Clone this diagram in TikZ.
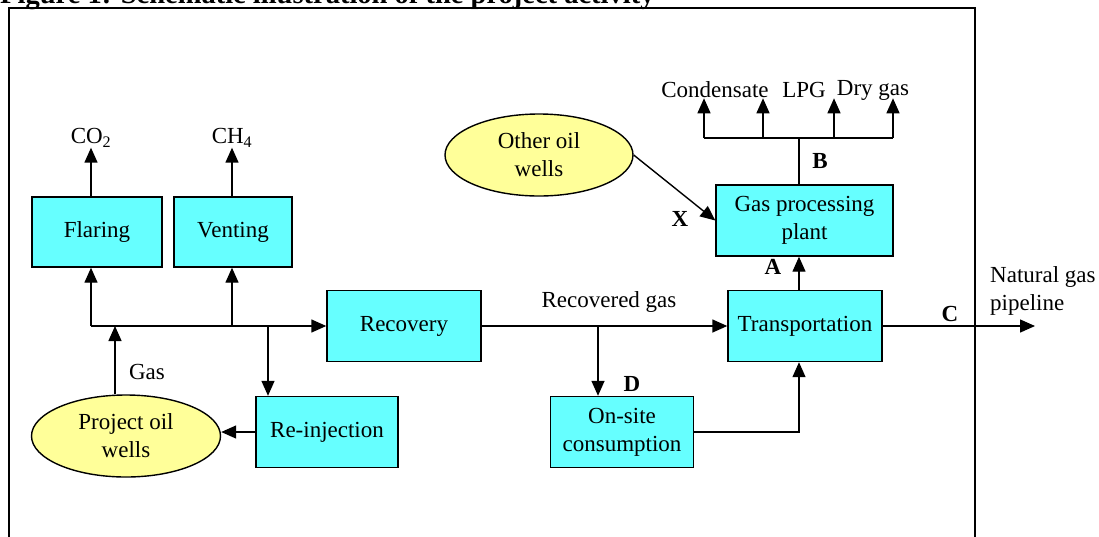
\documentclass[tikz,border=0pt]{standalone}
\usepackage{fontspec}
\setmainfont{Liberation Serif}
\usetikzlibrary{arrows.meta,shapes.geometric}
\definecolor{boxcyan}{HTML}{66FFFF}
\definecolor{wellyellow}{HTML}{FFFF99}
\begin{document}
\begin{tikzpicture}[x=1pt,y=-1pt,
  every node/.style={font=\fontsize{23}{28}\selectfont},
  procbox/.style={draw=black,line width=1.4pt,fill=boxcyan,inner sep=0pt,align=center},
  wellell/.style={draw=black,line width=1.4pt,fill=wellyellow,ellipse,inner sep=0pt,align=center},
  conn/.style={line width=1.4pt},
  arr/.style={line width=1.4pt,-{Triangle[length=15pt,width=13pt]}},
  lbl/.style={inner sep=0pt},
  blbl/.style={inner sep=0pt,font=\fontsize{23}{28}\selectfont\bfseries}]
\useasboundingbox (0,0) rectangle (1099,536);
\clip (0,0) rectangle (1099,536);
\node[anchor=base west,inner sep=0pt,font=\fontsize{28.5}{32}\selectfont\bfseries] (title) at (0,3) {Figure 1: Schematic illustration of the project activity};
\draw[line width=1.4pt] (9,8) rectangle (975,560);

% nodes
\node[procbox,minimum width=130pt,minimum height=70pt] (flare) at (97,232) {Flaring};
\node[procbox,minimum width=118pt,minimum height=70pt] (vent) at (233,232) {Venting};
\node[procbox,minimum width=154pt,minimum height=71pt] (recov) at (404,326) {Recovery};
\node[procbox,minimum width=142pt,minimum height=71pt] (reinj) at (327,432) {Re-injection};
\node[wellell,minimum width=189pt,minimum height=82pt] (pwells) at (126,436) {Project oil\\wells};
\node[wellell,minimum width=188pt,minimum height=82pt] (owells) at (539,155) {Other oil\\wells};
\node[procbox,minimum width=177pt,minimum height=71pt] (plant) at (804.5,220.5) {Gas processing\\plant};
\node[procbox,minimum width=154pt,minimum height=71pt] (trans) at (805,326) {Transportation};
\node[procbox,minimum width=143pt,minimum height=71pt] (onsite) at (622,432) {On-site\\consumption};

% text labels
\node[lbl] (co2) at (91,138) {CO\textsubscript{2}};
\node[lbl] (ch4) at (232,138) {CH\textsubscript{4}};
\node[lbl] (gas) at (147,372) {Gas};
\node[lbl] (recgas) at (609,302) {Recovered gas};
\node[lbl] (cond) at (715,90) {Condensate};
\node[lbl] (lpg) at (804,90) {LPG};
\node[lbl] (dry) at (873,90) {Dry gas};
\node[blbl] (lx) at (680,219) {X};
\node[blbl] (lb) at (820,161) {B};
\node[blbl] (la) at (773,267) {A};
\node[blbl] (ld) at (632,384) {D};
\node[blbl] (lc) at (950,314) {C};
\node[lbl,anchor=west,align=left] (pipe) at (990,291) {Natural gas\\pipeline};

% junction coordinates
\coordinate (j1) at (91,326);
\coordinate (jg) at (115,326);
\coordinate (jv) at (232,326);
\coordinate (jr) at (268,326);
\coordinate (jd) at (598,326);
\coordinate (kx) at (799,432);
\coordinate (bj) at (799,138);
\coordinate (b1) at (704,138);
\coordinate (b2) at (763,138);
\coordinate (b3) at (834,138);
\coordinate (b4) at (893,138);
\coordinate (pend) at (1035,326);

% connectors
\draw[arr] (flare.north -| co2) -- (co2.south);
\draw[arr] (vent.north -| ch4) -- (ch4.south);
\draw[conn] (j1) -- (jr);
\draw[arr] (jr) -- (recov.west);
\draw[arr] (j1) -- (flare.south -| j1);
\draw[arr] (jv) -- (vent.south -| jv);
\draw[arr] (jg |- pwells.north) -- (jg);
\draw[arr] (jr) -- (jr |- reinj.north);
\draw[arr] (reinj.west) -- (reinj.west -| pwells.east);
\draw[arr] (recov.east) -- (trans.west);
\draw[arr] (jd) -- (jd |- onsite.north);
\draw[arr] (onsite.east |- kx) -- (kx) -- (kx |- trans.south);
\draw[arr] (trans.north -| kx) -- (plant.south -| kx);
\draw[arr] (owells.east) -- (plant.west);
\draw[conn] (plant.north -| bj) -- (bj);
\draw[conn] (b1) -- (b4);
\draw[arr] (b1) -- (b1 |- cond.south);
\draw[arr] (b2) -- (b2 |- cond.south);
\draw[arr] (b3) -- (b3 |- cond.south);
\draw[arr] (b4) -- (b4 |- cond.south);
\draw[arr] (trans.east) -- (pend);
\end{tikzpicture}
\end{document}
